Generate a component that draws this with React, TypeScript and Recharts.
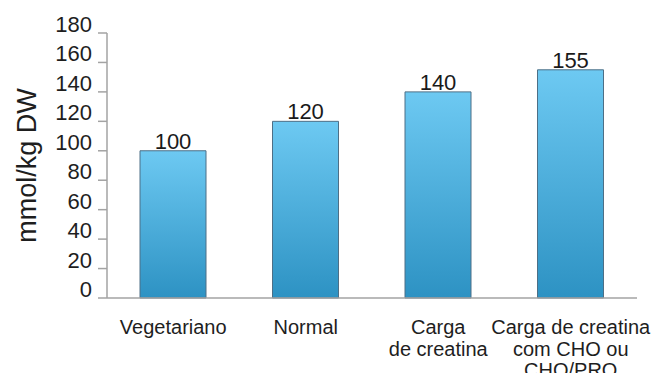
import React from "react";
import { BarChart, Bar, XAxis, YAxis, LabelList } from "recharts";

// Creatine content by diet / supplementation protocol
const categories = [
  "Vegetariano",
  "Normal",
  "Carga\nde creatina",
  "Carga de creatina\ncom CHO ou\nCHO/PRO",
];
const creatineValues = [100, 120, 140, 155];
const yTicks = [0, 20, 40, 60, 80, 100, 120, 140, 160, 180];
const yAxisTitle = "mmol/kg DW";

const data = categories.map((name, i) => ({ name, value: creatineValues[i] }));

const FONT = "'Liberation Sans', Arial, sans-serif";
const AXIS_COLOR = "#a3a3a3";

// Multi-line category label, one <text> per line
const CategoryTick = (props: any) => {
  const { x, y, payload } = props;
  const lines = String(payload.value).split("\n");
  return (
    <g>
      {lines.map((line, i) => (
        <text
          key={i}
          x={x}
          y={y + 28 + i * 21.5}
          textAnchor="middle"
          fontFamily={FONT}
          fontSize={20}
          fill="#1e1e1e"
        >
          {line}
        </text>
      ))}
    </g>
  );
};

const ValueTick = (props: any) => {
  const { x, y, payload } = props;
  return (
    <text
      x={x}
      y={y}
      dy={-1}
      textAnchor="end"
      fontFamily={FONT}
      fontSize={22}
      fill="#1e1e1e"
    >
      {payload.value}
    </text>
  );
};

const AxisTitle = (props: any) => {
  const vb = props.viewBox;
  const cx = vb.x + 27;
  const cy = vb.y + vb.height / 2;
  return (
    <text
      x={cx}
      y={cy}
      transform={`rotate(-90, ${cx}, ${cy})`}
      textAnchor="middle"
      dominantBaseline="central"
      fontFamily={FONT}
      fontSize={27}
      fill="#1e1e1e"
    >
      {yAxisTitle}
    </text>
  );
};

export default function App() {
  return (
    <div style={{ position: "fixed", left: 0, top: 0, background: "#fff" }}>
      <BarChart
        width={662}
        height={373}
        data={data}
        margin={{ top: 33, right: 25, bottom: 0, left: 0 }}
      >
        <defs>
          <linearGradient id="barFill" x1="0" y1="0" x2="0" y2="1">
            <stop offset="0%" stopColor="#6dc9f2" />
            <stop offset="100%" stopColor="#2d92c3" />
          </linearGradient>
        </defs>
        <XAxis
          dataKey="name"
          height={75}
          axisLine={{ stroke: AXIS_COLOR, strokeWidth: 1.5 }}
          tickLine={false}
          tick={<CategoryTick />}
          interval={0}
        />
        <YAxis
          width={107}
          domain={[0, 180]}
          ticks={yTicks}
          interval={0}
          axisLine={{ stroke: AXIS_COLOR, strokeWidth: 1.5 }}
          tickLine={{ stroke: AXIS_COLOR, strokeWidth: 1.5 }}
          tickSize={9}
          tickMargin={6}
          tick={<ValueTick />}
          label={{ content: <AxisTitle /> }}
        />
        <Bar
          dataKey="value"
          barSize={66}
          fill="url(#barFill)"
          stroke="#4d6f86"
          strokeWidth={1}
          isAnimationActive={false}
        >
          <LabelList
            dataKey="value"
            position="top"
            offset={2}
            fontFamily={FONT}
            fontSize={22}
            fill="#1a1a1a"
          />
        </Bar>
      </BarChart>
    </div>
  );
}
